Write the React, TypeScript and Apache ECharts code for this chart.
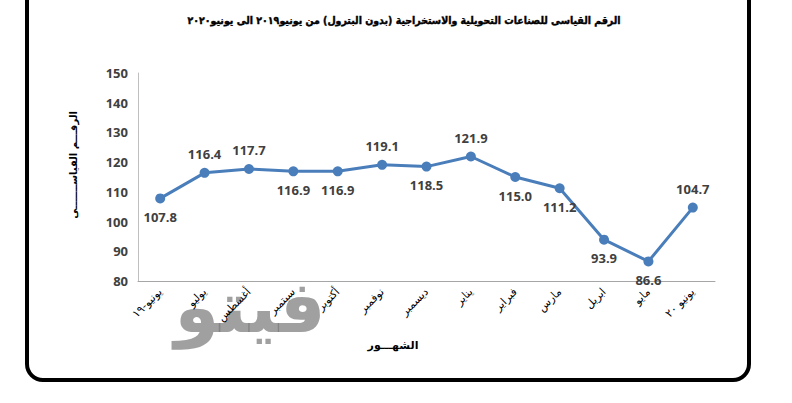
import React, { useEffect, useRef } from "react";
import * as echarts from "echarts";

const months = [
  "يونيو-١٩",
  "يوليو",
  "أغسطس",
  "سبتمبر",
  "أكتوبر",
  "نوفمبر",
  "ديسمبر",
  "يناير",
  "فبراير",
  "مارس",
  "ابريل",
  "مايو",
  "يونيو ٢٠",
];
const indexValues = [107.8, 116.4, 117.7, 116.9, 116.9, 119.1, 118.5, 121.9, 115.0, 111.2, 93.9, 86.6, 104.7];
const labelAbove = [false, true, true, false, false, true, false, true, false, false, false, false, true];
const titleText = "الرقم القياسى للصناعات التحويلية والاستخراجية (بدون البترول) من يونيو٢٠١٩ الى يونيو٢٠٢٠";
const yName = "الرقـــم القياســـــــى";
const xName = "الشهـــور";
const watermark = "فيتو";

export default function App() {
  const ref = useRef<HTMLDivElement>(null);
  useEffect(() => {
    if (!ref.current) return;
    const chart = echarts.init(ref.current, null, { renderer: "svg" });
    const arabicFont = "'DejaVu Sans', 'Noto Sans', sans-serif";
    const condFont = "'DejaVu Sans Condensed', 'DejaVu Sans', sans-serif";
    chart.setOption({
      animation: false,
      backgroundColor: "#ffffff",
      grid: { left: 138, right: 77, top: 73, bottom: 122 },
      graphic: [
        {
          type: "rect",
          shape: { x: 27, y: -30, width: 722, height: 410, r: 16 },
          style: { fill: "none", stroke: "#000", lineWidth: 4 },
          z: 1,
        },
        {
          type: "text",
          x: 250,
          y: 307,
          style: {
            text: watermark,
            font: "bold 72px 'DejaVu Sans', sans-serif",
            fill: "rgba(120,120,120,0.7)",
            textAlign: "center",
            textVerticalAlign: "middle",
          },
          z: 0,
        },
        {
          type: "text",
          x: 404,
          y: 20,
          style: {
            text: titleText,
            font: `bold 10.5px ${condFont}`,
            fill: "#000",
            stroke: "#000",
            lineWidth: 0.4,
            textAlign: "center",
            textVerticalAlign: "middle",
          },
        },
        {
          type: "text",
          x: 73,
          y: 165,
          rotation: Math.PI / 2,
          style: {
            text: yName,
            font: `bold 10px ${arabicFont}`,
            fill: "#000",
            textAlign: "center",
            textVerticalAlign: "middle",
          },
        },
        {
          type: "text",
          x: 393,
          y: 345,
          style: {
            text: xName,
            font: `bold 11px ${arabicFont}`,
            fill: "#000",
            textAlign: "center",
            textVerticalAlign: "middle",
          },
        },
      ],
      xAxis: {
        type: "category",
        data: months,
        boundaryGap: true,
        axisLine: { lineStyle: { color: "#a6a6a6", width: 1 } },
        axisTick: { show: false },
        axisLabel: {
          rotate: 45,
          interval: 0,
          margin: 9,
          color: "#000",
          fontSize: 11,
          fontFamily: "'DejaVu Sans', sans-serif",
        },
      },
      yAxis: {
        type: "value",
        min: 80,
        max: 150,
        interval: 10,
        axisLine: { show: true, lineStyle: { color: "#bfbfbf", width: 1 } },
        axisTick: { show: false },
        splitLine: { show: false },
        axisLabel: {
          color: "#404040",
          fontWeight: "bold",
          fontSize: 13,
          margin: 10,
          fontFamily: "'Open Sans', sans-serif",
        },
      },
      series: [
        {
          type: "line",
          data: indexValues.map((v, i) => ({
            value: v,
            label: { position: labelAbove[i] ? "top" : "bottom" },
          })),
          symbol: "circle",
          symbolSize: 10,
          lineStyle: { color: "#4a7ebb", width: 3 },
          itemStyle: { color: "#4a7ebb" },
          label: {
            show: true,
            distance: 7,
            color: "#404040",
            fontWeight: "bold",
            fontSize: 13,
            fontFamily: "'Open Sans', sans-serif",
            formatter: (p: any) => Number(p.value).toFixed(1),
          },
          z: 3,
        },
      ],
    });
    return () => chart.dispose();
  }, []);
  return (
    <div
      ref={ref}
      style={{ position: "fixed", left: 0, top: 0, width: 792, height: 403 }}
    />
  );
}
